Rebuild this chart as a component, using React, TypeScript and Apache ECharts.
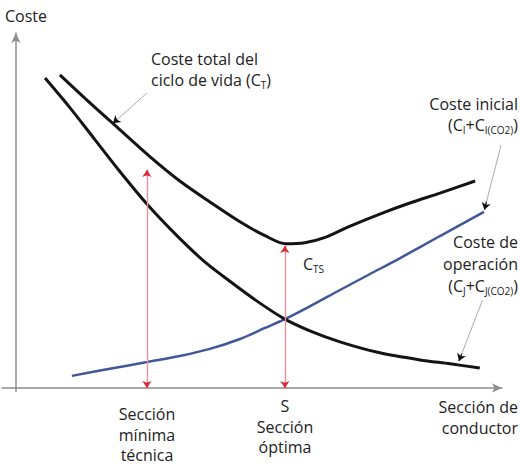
import React, { useEffect, useRef } from "react";
import * as echarts from "echarts";

// Curves (x: conductor section, y: cost; arbitrary units)
const totalCost: [number, number][] = [
  [9.5, 88.2], [16.0, 80.3], [22.5, 72.7], [29.0, 65.1], [35.4, 58.3], [41.9, 52.4],
  [48.4, 46.8], [53.8, 42.9], [58.3, 40.6], [62.4, 40.9], [66.8, 42.4], [72.2, 45.6],
  [78.6, 49.0], [85.1, 52.1], [91.6, 54.9], [99.2, 58.3],
];
const operationCost: [number, number][] = [
  [6.3, 87.3], [11.7, 78.9], [17.1, 69.9], [22.5, 60.9], [28.3, 51.8], [34.4, 43.4],
  [40.8, 35.5], [47.3, 29.0], [52.7, 23.9], [58.1, 19.4], [63.5, 16.1], [70.0, 13.0],
  [78.6, 9.9], [87.3, 7.9], [93.8, 6.8], [100.2, 5.6],
];
const initialCost: [number, number][] = [
  [12.1, 3.4], [20.3, 5.4], [28.3, 7.3], [35.4, 9.0], [41.9, 11.0], [48.4, 13.8],
  [53.8, 16.9], [58.1, 19.4], [63.5, 23.0], [70.0, 27.6], [76.5, 32.1], [83.0, 36.6],
  [91.6, 42.8], [101.1, 49.6],
];
// Vertical markers: [x, top of arrow]
const sectionMarkers: [number, number][] = [
  [28.3, 61.4],
  [58.1, 40.0],
];
// Annotation pointers: [fromX, fromY, toX, toY]
const pointers: [number, number, number, number][] = [
  [28.3, 83.1, 21.0, 74.6],
  [104.8, 68.4, 101.2, 50.2],
  [100.8, 24.8, 95.7, 7.6],
];

const FONT = "Open Sans";
const TEXT = "#222";
const PINK = "#ec8f9c";
const RED = "#d92b3a";
const GREY = "#ababab";
const rich = {
  s: { fontSize: 10, fontFamily: FONT, fill: TEXT, verticalAlign: "bottom", lineHeight: 19 },
};

function label(x: number, y: number, text: string, align: "left" | "right" | "center" = "left") {
  return {
    type: "text",
    x,
    y,
    silent: true,
    style: {
      text,
      fill: TEXT,
      fontSize: 16,
      fontFamily: FONT,
      align,
      verticalAlign: "middle",
      lineHeight: 19,
      rich,
    },
  };
}

function seg(a: number[], b: number[], color: string, arrow: boolean, width = 1) {
  return [
    { coord: a, symbol: "none", lineStyle: { color, width, type: "solid", opacity: 1 } },
    { coord: b, symbol: arrow ? "arrow" : "none" },
  ];
}

export default function App() {
  const ref = useRef<HTMLDivElement>(null);
  useEffect(() => {
    document.body.style.margin = "0";
    const chart = echarts.init(ref.current!, undefined, { renderer: "svg" });
    const axisLine = {
      show: true,
      onZero: true,
      symbol: ["none", "arrow"],
      symbolSize: [7, 10],
      lineStyle: { color: "#8d8d8d", width: 1.5 },
    };
    const curve = { type: "line", smooth: 0.3, showSymbol: false };

    const annot: any[] = [];
    sectionMarkers.forEach(([x, top]) => {
      annot.push(seg([x, 0], [x, top], PINK, false, 1.4));
      annot.push(seg([x, 1.5], [x, 0], RED, true, 1.2));
      annot.push(seg([x, top - 1.5], [x, top], RED, true, 1.2));
    });
    pointers.forEach(([x1, y1, x2, y2]) => {
      annot.push(seg([x1, y1], [x2, y2], GREY, false, 1));
      const f = 0.12;
      annot.push(seg([x2 + (x1 - x2) * f, y2 + (y1 - y2) * f], [x2, y2], "#111", true, 1.2));
    });

    chart.setOption({
      animation: false,
      grid: { left: 2, top: 33, width: 500, height: 358.5 },
      xAxis: {
        type: "value", min: -3, max: 105,
        axisLine, axisTick: { show: false }, axisLabel: { show: false }, splitLine: { show: false },
      },
      yAxis: {
        type: "value", min: -1, max: 100,
        axisLine, axisTick: { show: false }, axisLabel: { show: false }, splitLine: { show: false },
      },
      series: [
        {
          ...curve,
          data: initialCost,
          z: 2,
          lineStyle: { color: "#40589a", width: 2.5 },
          markLine: {
            silent: true,
            symbol: ["none", "arrow"],
            symbolSize: 7,
            label: { show: false },
            data: annot,
          },
        },
        {
          ...curve,
          data: operationCost,
          z: 3,
          lineStyle: { color: "#141414", width: 3 },
        },
        {
          ...curve,
          data: totalCost,
          z: 3,
          lineStyle: { color: "#141414", width: 3 },
        },
      ],
      graphic: [
        label(5, 16, "Coste"),
        label(151, 59, "Coste total del"),
        label(151, 80, "ciclo de vida (C{s|T})"),
        label(518, 104, "Coste inicial", "right"),
        label(518, 125, "(C{s|I}+C{s|I(CO2)})", "right"),
        label(518, 242, "Coste de", "right"),
        label(518, 264, "operación", "right"),
        label(518, 286, "(C{s|J}+C{s|J(CO2)})", "right"),
        label(303, 264, "C{s|TS}"),
        label(147, 414, "Sección", "center"),
        label(147, 435, "mínima", "center"),
        label(147, 455, "técnica", "center"),
        label(285, 406, "S", "center"),
        label(285, 427, "Sección", "center"),
        label(285, 447, "óptima", "center"),
        label(518, 407, "Sección de", "right"),
        label(518, 428, "conductor", "right"),
      ],
    });
    return () => chart.dispose();
  }, []);
  return (
    <div
      ref={ref}
      style={{ position: "absolute", left: 0, top: 0, width: 520, height: 466, background: "#fff" }}
    />
  );
}
